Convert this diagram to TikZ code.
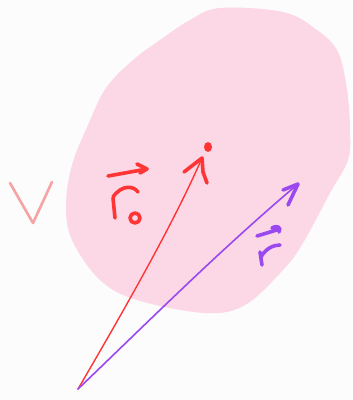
\documentclass[tikz,border=0pt]{standalone}
\begin{document}
\begin{tikzpicture}[x=1pt,y=-1pt,line cap=round,line join=round]
\definecolor{blob}{HTML}{FCD7E5}
\definecolor{rr}{HTML}{FF3535}
\definecolor{pp}{HTML}{9A48F0}
\definecolor{vv}{HTML}{F5A3A3}
\definecolor{bg}{HTML}{FCFCFC}
\tikzset{stroke/.style={line width=3.6pt},thin stroke/.style={line width=1.4pt}}
\fill[bg] (0,0) rectangle (353,400);
\useasboundingbox (0,0) rectangle (353,400);
% region
\fill[blob] plot[smooth cycle,tension=0.6] coordinates {
 (220,8) (283,12) (317,30) (338,52) (347,90) (350,130) (348,160) (330,193)
 (303,243) (283,270) (245,305) (205,313) (137,300) (100,280) (72,240)
 (66,205) (72,165) (88,125) (106,88) (133,60) (160,40) (190,20)};
% origin and tips
\coordinate (O) at (78,389);
\coordinate (R0) at (202,158);
\coordinate (R) at (298,184);
% r0 vector
\draw[rr,thin stroke] (O) .. controls (130,300) and (175,220) .. (R0);
\draw[rr,stroke] (184,172) -- (R0) -- (203,172) -- (207,183);
\fill[rr] (208,147) ellipse (4 and 5);
% r vector
\draw[pp,line width=1.6pt] (O) .. controls (150,320) and (220,250) .. (R);
\draw[pp,stroke] (283,190) -- (R) -- (288,205);
% labels
\draw[vv,line width=2.6pt] (10,183) -- (33,223) -- (52,182);
\draw[rr,stroke] (108,176) -- (147,169) (137,164) -- (147,169) -- (140,173);
\draw[rr,stroke] (113,198) -- (115,218) (113,197) .. controls (122,184) and (134,186) .. (138,192);
\draw[rr,stroke] (135,218) circle (5);
\draw[pp,stroke] (257,236) -- (280,229) (272,228) .. controls (276,225) and (282,227) .. (279,232);
\draw[pp,stroke] (260,252) -- (262,265) (261,257) .. controls (266,248) and (274,245) .. (280,245);
\end{tikzpicture}
\end{document}
